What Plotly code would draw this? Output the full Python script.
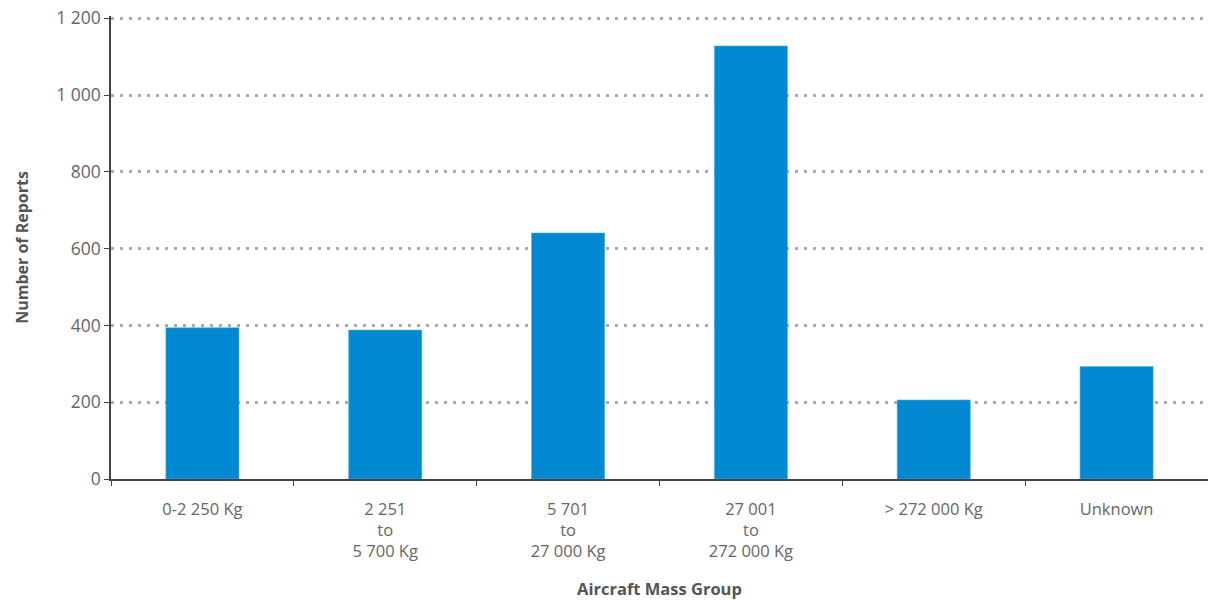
import plotly.graph_objects as go

categories = [
    "0-2 250 Kg",
    "2 251<br>to<br>5 700 Kg",
    "5 701<br>to<br>27 000 Kg",
    "27 001<br>to<br>272 000 Kg",
    "> 272 000 Kg",
    "Unknown",
]
reports = [394, 388, 641, 1128, 206, 293]
y_ticks = [0, 200, 400, 600, 800, 1000, 1200]

BLUE = "#0088D0"
TEXT = "#666666"
AXIS = "#444444"

fig = go.Figure(
    go.Bar(
        x=categories,
        y=reports,
        marker=dict(color=BLUE, line=dict(color="#5bb4e6", width=0.6)),
        hoverinfo="x+y",
    )
)

fig.update_layout(
    width=1208,
    height=600,
    margin=dict(l=111, r=0, t=16, b=121),
    plot_bgcolor="white",
    paper_bgcolor="white",
    bargap=0.6,
    separators=". ",
    font=dict(family="Open Sans, Noto Sans, sans-serif", color=TEXT, size=17),
    showlegend=False,
)

fig.update_xaxes(
    showline=True,
    linecolor=AXIS,
    linewidth=1.5,
    ticks="outside",
    tickson="boundaries",
    ticklen=5,
    tickcolor=AXIS,
    ticklabelstandoff=14,
    tickfont=dict(size=16.5, color=TEXT),
    showgrid=False,
    title=dict(
        text="<b>Aircraft Mass Group</b>",
        font=dict(size=16.5, color="#555555"),
        standoff=22,
    ),
)

fig.update_yaxes(
    range=[0, 1206],
    tickvals=y_ticks,
    tickformat=",d",
    showline=True,
    linecolor=AXIS,
    linewidth=1.5,
    ticks="outside",
    ticklen=5,
    tickcolor=AXIS,
    tickfont=dict(size=17.5, color=TEXT),
    showgrid=True,
    gridcolor="#aaaaaa",
    gridwidth=2.5,
    griddash="3px,6px",
    zeroline=False,
    title=dict(
        text="<b>Number of Reports</b>",
        font=dict(size=16, color="#555555"),
        standoff=24,
    ),
)

# drop the page's default body margin so the figure sits at (0, 0)
fig.write_html(
    "out.html",
    config={"displayModeBar": False},
    post_script="document.body.style.margin='0';",
)
